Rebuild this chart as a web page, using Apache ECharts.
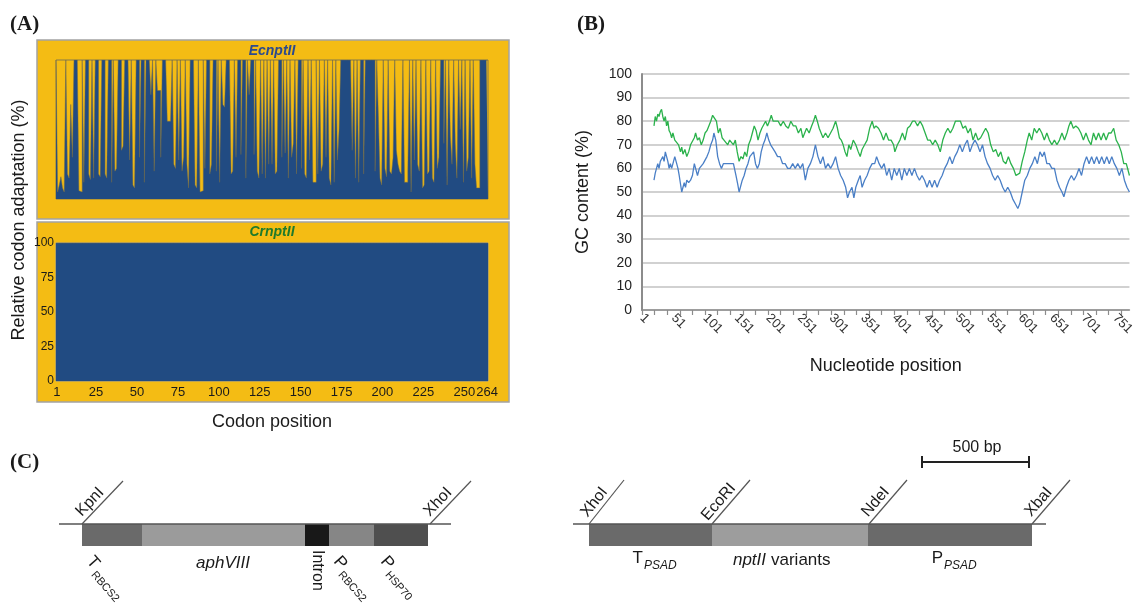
<!DOCTYPE html>
<html>
<head>
<meta charset="utf-8">
<script src="https://cdn.jsdelivr.net/npm/echarts@6/dist/echarts.min.js"></script>
<style>html,body{margin:0;padding:0;background:#fff}#chart{width:1137px;height:605px}</style>
</head>
<body>
<div id="chart"></div>
<script>
// (A) relative codon adaptation per codon
var ecnRca = [
  100,5,10,16,8,5,100,18,15,68,30,100,100,100,6,5,100,12,100,100,18,14,100,15,100,100,18,16,100,100,
  18,15,100,100,12,100,20,22,100,100,35,38,100,100,100,28,100,10,8,100,100,30,100,100,12,100,100,100,75,100,
  20,100,78,78,30,100,100,100,56,56,56,100,25,22,100,28,100,20,30,100,25,8,100,100,100,10,8,100,5,6,
  100,22,100,100,18,25,100,100,20,100,12,100,68,66,100,100,100,18,20,100,30,100,100,32,100,100,15,100,75,100,
  100,32,100,20,15,100,18,100,15,100,25,100,25,100,18,20,100,100,30,100,33,100,15,100,30,40,100,18,100,100,
  22,100,18,15,100,28,100,12,12,100,18,100,20,25,100,30,100,15,10,100,12,100,28,50,100,100,100,100,100,100,
  100,35,100,15,100,12,100,100,18,100,100,100,100,100,100,20,100,60,15,10,100,22,16,100,20,18,30,100,35,25,
  20,18,100,12,12,20,100,5,100,28,100,25,20,100,8,10,100,18,20,100,15,12,100,22,30,100,100,40,100,10,
  100,45,25,100,40,15,100,50,100,12,100,20,30,100,15,100,25,8,8,100,100,100,100,100
];
var crnRca = [
  100,100,100,100,100,100,100,100,100,100,100,100,100,100,100,100,100,100,100,100,100,100,100,100,
  100,100,100,100,100,100,100,100,100,100,100,100,100,100,100,100,100,100,100,100,100,100,100,100,
  100,100,100,100,100,100,100,100,100,100,100,100,100,100,100,100,100,100,100,100,100,100,100,100,
  100,100,100,100,100,100,100,100,100,100,100,100,100,100,100,100,100,100,100,100,100,100,100,100,
  100,100,100,100,100,100,100,100,100,100,100,100,100,100,100,100,100,100,100,100,100,100,100,100,
  100,100,100,100,100,100,100,100,100,100,100,100,100,100,100,100,100,100,100,100,100,100,100,100,
  100,100,100,100,100,100,100,100,100,100,100,100,100,100,100,100,100,100,100,100,100,100,100,100,
  100,100,100,100,100,100,100,100,100,100,100,100,100,100,100,100,100,100,100,100,100,100,100,100,
  100,100,100,100,100,100,100,100,100,100,100,100,100,100,100,100,100,100,100,100,100,100,100,100,
  100,100,100,100,100,100,100,100,100,100,100,100,100,100,100,100,100,100,100,100,100,100,100,100,
  100,100,100,100,100,100,100,100,100,100,100,100,100,100,100,100,100,100,100,100,100,100,100,100
];
var codonCount = 264;
var codonTickLabels = [1, 25, 50, 75, 100, 125, 150, 175, 200, 225, 250, 264];

// (B) GC content, [nucleotide position, %]
var gcGreen = [
  [20,78],[22,82],[24,80],[26,83],[28,82],[30,84],[32,85],[34,82],[36,80],[38,82],[40,78],[42,80],[44,76],[46,75],[48,73],
  [50,75],[53,72],[56,72],[59,70],[62,67],[64,69],[66,66],[69,68],[72,65],[75,67],[78,70],[81,70],[84,73],[86,75],[89,72],
  [92,73],[95,70],[98,72],[101,75],[104,76],[107,78],[110,80],[113,82.5],[116,82.5],[119,80],[122,75],[125,77],[128,73],
  [131,72],[134,72],[137,70],[140,72],[143,72],[146,70],[149,72],[152,67],[155,63],[158,65],[161,64],[164,67],[167,65],
  [170,70],[173,72],[176,75],[179,78],[182,76],[185,72],[188,75],[191,77],[194,77],[197,80],[200,78],[203,80],[206,82.5],
  [209,80],[213,80],[217,80],[221,78],[225,80],[229,78],[233,77],[237,80],[241,78],[245,78],[249,75],[253,77],[256,73],
  [259,75],[262,77],[266,75],[270,78],[273,80],[276,82.5],[279,80],[282,77],[285,75],[288,73],[292,75],[296,73],[300,75],
  [304,77],[308,80],[311,77],[314,73],[317,72],[320,70],[323,67],[326,65],[329,70],[332,68],[336,72],[340,70],[344,67],
  [347,65],[350,68],[354,70],[358,72],[362,77],[366,80],[369,77],[372,78],[376,77],[380,75],[384,72],[388,75],[392,72],
  [396,72],[400,70],[402,67],[406,70],[410,72],[414,75],[418,72],[422,77],[426,78],[430,80],[434,80],[438,78],[442,80],
  [446,78],[450,75],[454,72],[458,72],[462,70],[466,72],[470,70],[474,67],[478,72],[482,75],[486,77],[490,75],[494,77],
  [498,80],[502,80],[506,80],[510,77],[514,78],[518,75],[522,77],[526,72],[530,75],[534,72],[538,73],[542,75],[546,77],
  [550,75],[554,70],[558,67],[562,68],[566,65],[570,67],[574,63],[578,62],[582,65],[586,62],[590,60],[594,57],[597,57],
  [600,58],[604,63],[608,67],[612,72],[615,75],[619,72],[623,77],[627,75],[631,77],[635,75],[639,72],[643,75],[647,72],
  [651,70],[655,72],[659,70],[663,72],[667,75],[671,72],[675,75],[678,78],[681,80],[685,77],[689,78],[693,77],[697,75],
  [701,72],[705,75],[709,72],[713,70],[717,75],[721,72],[725,75],[729,72],[733,75],[737,72],[741,75],[745,75],[749,77],
  [753,72],[757,70],[761,67],[765,62],[769,62],[774,57]
];
var gcBlue = [
  [20,55],[22,58],[24,60],[26,62],[28,60],[30,63],[32,64],[34,65],[36,63],[38,67],[40,65],[42,63],[44,60],[46,62],[48,60],
  [51,63],[53,65],[56,62],[58,60],[60,57],[62,57],[64,50],[66,52],[68,54],[70,52],[72,55],[75,54],[78,55],[81,57],[84,62],
  [86,60],[89,57],[92,60],[95,60],[98,62],[101,62],[104,65],[107,67],[110,70],[113,72],[115,75],[118,72],[121,65],[124,62],
  [127,60],[130,62],[134,62],[138,62],[142,62],[146,62],[150,57],[153,53],[155,50],[157,50],[160,55],[163,57],[166,60],
  [169,62],[172,65],[175,65],[178,67],[181,62],[184,60],[187,62],[190,67],[193,70],[196,72],[199,75],[202,72],[205,70],
  [208,70],[212,67],[216,65],[220,65],[224,62],[228,62],[232,60],[236,60],[240,62],[244,60],[248,62],[252,60],[256,62],
  [260,55],[264,60],[268,62],[272,65],[276,70],[280,65],[284,62],[288,65],[292,60],[296,62],[300,60],[304,62],[308,65],
  [312,60],[316,57],[320,55],[324,52],[327,47.5],[330,50],[334,52],[337,47.5],[340,52],[344,55],[347,57],[350,52],[354,55],
  [358,57],[362,60],[366,62],[370,62],[373,65],[377,62],[381,60],[385,62],[389,57],[393,60],[397,55],[401,60],[405,57],
  [409,60],[413,55],[417,60],[421,57],[425,60],[429,57],[433,60],[437,57],[441,55],[445,57],[449,55],[453,52],[457,55],
  [461,52],[465,55],[469,52],[473,55],[477,57],[481,60],[485,62],[489,65],[493,62],[497,65],[501,67],[505,70],[509,67],
  [513,70],[517,72],[521,67],[525,70],[529,72],[533,70],[537,67],[541,70],[545,65],[549,62],[553,60],[557,57],[561,55],
  [565,57],[569,55],[573,52],[577,50],[581,52],[585,50],[589,47],[593,45],[597,43],[600,45],[604,50],[608,55],[612,57],
  [616,60],[620,62],[624,65],[628,62],[632,67],[636,65],[639,67],[643,62],[647,62],[651,60],[655,60],[659,55],[663,52],
  [667,50],[670,48],[674,52],[678,55],[682,57],[686,55],[690,57],[694,60],[698,57],[702,62],[706,65],[710,62],[714,65],
  [718,62],[722,65],[726,62],[730,65],[734,62],[738,65],[742,62],[746,65],[750,62],[754,60],[758,57],[762,60],[766,55],
  [770,52],[774,50]
];
var ntCount = 774;

var codons = [];
for (var i = 1; i <= codonCount; i++) codons.push(String(i));
var nts = [];
for (var j = 1; j <= ntCount; j++) nts.push(String(j));
// category axis takes the index, so shift positions by one
function toIdx(pts) { return pts.map(function (p) { return [p[0] - 1, p[1]]; }); }
// each codon becomes a flat-topped column from k-0.5 to k+0.5, drawn as one area (no seams between columns)
function columns(vals) {
  var out = [];
  vals.forEach(function (v, k) { out.push([k + 0.5, v], [k + 1.5, v]); });
  return out;
}

var YELLOW = '#F4BC14', BLUE = '#214B82';
var SANS = '"Liberation Sans", Arial, sans-serif';
var SERIF = '"Liberation Serif", "Times New Roman", serif';

function txt(x, y, s, font, o) {
  o = o || {};
  return {
    type: 'text', x: x, y: y, rotation: o.rot || 0, z: 20,
    style: {
      text: s, font: font, fill: o.color || '#1a1a1a',
      textAlign: o.align || 'center', align: o.align || 'center',
      textVerticalAlign: o.valign || 'middle', verticalAlign: o.valign || 'middle'
    }
  };
}
function seg(x1, y1, x2, y2, w, c) {
  return { type: 'line', z: 15, shape: { x1: x1, y1: y1, x2: x2, y2: y2 }, style: { stroke: c || '#555', lineWidth: w || 1.2 } };
}
function box(x, y, w, h, fill, stroke, z) {
  return { type: 'rect', z: z === undefined ? 14 : z, shape: { x: x, y: y, width: w, height: h }, style: { fill: fill, stroke: stroke || null, lineWidth: stroke ? 1.5 : 0 } };
}
// restriction site: slanted line with label lying along it
function site(x0, y0, dx, dy, label) {
  var a = Math.atan2(dy, dx);
  var t = 0.36;
  return [
    seg(x0, y0, x0 + dx, y0 - dy, 1.2, '#555'),
    txt(x0 + dx * t - 1, y0 - dy * t - 1, label, '16px ' + SANS, { rot: a, valign: 'bottom' })
  ];
}
// label with subscript, rotated clockwise
function subLabel(x, y, main, sub, rot) {
  return {
    type: 'group', x: x, y: y, rotation: rot, z: 20,
    children: [
      { type: 'text', x: 0, y: 0, z: 20, style: { text: main, font: '17px ' + SANS, fill: '#1a1a1a', textAlign: 'left', align: 'left', textVerticalAlign: 'top', verticalAlign: 'top' } },
      { type: 'text', x: 13, y: 10, z: 20, style: { text: sub, font: '11px ' + SANS, fill: '#1a1a1a', textAlign: 'left', align: 'left', textVerticalAlign: 'top', verticalAlign: 'top' } }
    ]
  };
}

var graphics = [
  // yellow frames sit behind the panel A grids
  box(37, 40, 472, 179, YELLOW, '#a3a3a3', -10),
  box(37, 222, 472, 180, YELLOW, '#a3a3a3', -10),
  txt(272, 51, 'EcnptII', 'italic bold 14px ' + SANS, { color: '#2B4A8E' }),
  txt(272, 232, 'CrnptII', 'italic bold 14px ' + SANS, { color: '#1E7A2C' }),
  txt(19, 220, 'Relative codon adaptation (%)', '18px ' + SANS, { rot: Math.PI / 2 }),
  txt(10, 25, '(A)', 'bold 21px ' + SERIF, { align: 'left' }),
  txt(577, 25, '(B)', 'bold 21px ' + SERIF, { align: 'left' }),
  txt(10, 463, '(C)', 'bold 21px ' + SERIF, { align: 'left' }),

  // left construct
  seg(59, 524, 451, 524, 1.5, '#555'),
  box(82, 524, 60, 22, '#6A6A6A'),
  box(142, 524, 163, 22, '#9B9B9B'),
  box(305, 524, 24, 22, '#181818'),
  box(329, 524, 45, 22, '#868686'),
  box(374, 524, 54, 22, '#4F4F4F'),
  subLabel(96, 553, 'T', 'RBCS2', -0.85),
  txt(223, 563, 'aphVIII', 'italic 17px ' + SANS),
  txt(317, 550, 'Intron', '16px ' + SANS, { rot: -Math.PI / 2, align: 'left' }),
  subLabel(343, 553, 'P', 'RBCS2', -0.85),
  subLabel(390, 553, 'P', 'HSP70', -0.85),

  // right construct
  seg(573, 524, 1046, 524, 1.5, '#555'),
  box(589, 524, 123, 22, '#6A6A6A'),
  box(712, 524, 156, 22, '#9D9D9D'),
  box(868, 524, 164, 22, '#6A6A6A'),
  txt(643, 558, 'T', '17px ' + SANS, { align: 'right' }),
  txt(644, 566, 'PSAD', 'italic 12px ' + SANS, { align: 'left' }),
  txt(766, 560, 'nptII', 'italic 17px ' + SANS, { align: 'right' }),
  txt(771, 560, 'variants', '17px ' + SANS, { align: 'left' }),
  txt(943, 558, 'P', '17px ' + SANS, { align: 'right' }),
  txt(944, 566, 'PSAD', 'italic 12px ' + SANS, { align: 'left' }),

  // scale bar
  txt(977, 448, '500 bp', '16px ' + SANS),
  seg(922, 462, 1029, 462, 2, '#222'),
  seg(922, 456, 922, 468, 2, '#222'),
  seg(1029, 456, 1029, 468, 2, '#222')
];
graphics = graphics
  .concat(site(82, 524, 41, 43, 'KpnI'))
  .concat(site(430, 524, 41, 43, 'XhoI'))
  .concat(site(589, 524, 35, 44, 'XhoI'))
  .concat(site(712, 524, 38, 44, 'EcoRI'))
  .concat(site(869, 524, 38, 44, 'NdeI'))
  .concat(site(1032, 524, 38, 44, 'XbaI'));

var chart = echarts.init(document.getElementById('chart'), null, { renderer: 'canvas' });
chart.setOption({
  backgroundColor: '#fff',
  animation: false,
  graphic: { elements: graphics },
  grid: [
    { left: 56, top: 60, width: 432, height: 139, show: true, backgroundColor: YELLOW, borderColor: '#857a4a', borderWidth: 1 },
    { left: 56, top: 243, width: 432, height: 138, show: true, backgroundColor: YELLOW, borderColor: '#7f8797', borderWidth: 1 },
    { left: 642, top: 74, width: 491, height: 236 }
  ],
  xAxis: [
    // codon scales for the two column plots
    { gridIndex: 0, type: 'value', min: 0.5, max: codonCount + 0.5, show: false },
    { gridIndex: 1, type: 'value', min: 0.5, max: codonCount + 0.5, show: false },
    // labelled codon axis under CrnptII
    { gridIndex: 1, type: 'category', data: codons, position: 'bottom', axisLine: { show: false }, axisTick: { show: false },
      axisLabel: {
        margin: 5, fontSize: 13, color: '#1a1a1a', fontFamily: SANS, hideOverlap: false, showMaxLabel: true,
        interval: function (idx) { return codonTickLabels.indexOf(idx + 1) >= 0; }
      },
      name: 'Codon position', nameLocation: 'middle', nameGap: 32,
      nameTextStyle: { fontSize: 18, color: '#1a1a1a', fontFamily: SANS } },
    { gridIndex: 2, type: 'category', data: nts, boundaryGap: false,
      axisLine: { lineStyle: { color: '#8c8c8c', width: 1.5 } },
      axisTick: { interval: 19, length: 5, lineStyle: { color: '#8c8c8c', width: 1.2 } },
      axisLabel: { interval: 49, rotate: -45, margin: 6, fontSize: 13, color: '#333', fontFamily: SANS },
      name: 'Nucleotide position', nameLocation: 'middle', nameGap: 47,
      nameTextStyle: { fontSize: 18, color: '#1a1a1a', fontFamily: SANS } }
  ],
  yAxis: [
    { gridIndex: 0, type: 'value', min: 0, max: 100, show: false, splitLine: { show: false } },
    { gridIndex: 1, type: 'value', min: 0, max: 100, interval: 25,
      axisLine: { show: false }, axisTick: { show: false }, splitLine: { show: false },
      axisLabel: { margin: 2, fontSize: 12, color: '#1a1a1a', fontFamily: SANS } },
    { gridIndex: 2, type: 'value', min: 0, max: 100, interval: 10,
      axisLine: { show: true, lineStyle: { color: '#8c8c8c', width: 2 } },
      axisTick: { show: false },
      splitLine: { lineStyle: { color: '#c2c2c2', width: 1.5 } },
      axisLabel: { margin: 10, fontSize: 14, color: '#222', fontFamily: SANS },
      name: 'GC content (%)', nameLocation: 'middle', nameRotate: 90, nameGap: 50,
      nameTextStyle: { fontSize: 18, color: '#1a1a1a', fontFamily: SANS } }
  ],
  series: [
    { type: 'line', xAxisIndex: 0, yAxisIndex: 0, data: columns(ecnRca), showSymbol: false,
      lineStyle: { width: 0.5, color: '#6e6a50' }, areaStyle: { color: BLUE, opacity: 1 } },
    { type: 'line', xAxisIndex: 1, yAxisIndex: 1, data: columns(crnRca), showSymbol: false,
      lineStyle: { width: 0.5, color: '#6e6a50' }, areaStyle: { color: BLUE, opacity: 1 } },
    { type: 'line', xAxisIndex: 3, yAxisIndex: 2, data: toIdx(gcGreen), showSymbol: false, lineStyle: { color: '#2BB24C', width: 1.3 } },
    { type: 'line', xAxisIndex: 3, yAxisIndex: 2, data: toIdx(gcBlue), showSymbol: false, lineStyle: { color: '#4A7FC6', width: 1.3 } }
  ]
});
</script>
</body>
</html>
